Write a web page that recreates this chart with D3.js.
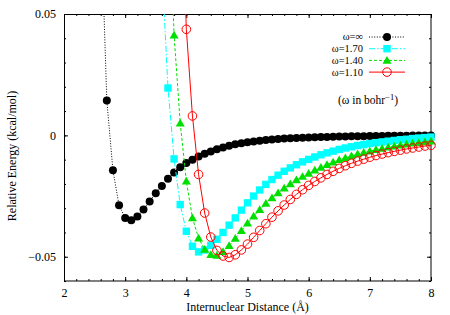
<!DOCTYPE html>
<html>
<head>
<meta charset="utf-8">
<script src="https://cdn.jsdelivr.net/npm/d3@7"></script>
<style>
  html, body { margin: 0; padding: 0; background: #fff; }
  svg { display: block; }
  svg text { font-family: "Liberation Serif", "Times New Roman", "DejaVu Serif", serif !important; fill: #000; }
</style>
</head>
<body>
<svg id="chart" width="450" height="315" font-family="Liberation Serif, serif"></svg>
<script>
// ---------------- data ----------------
const distInf = [2.6,2.7,2.8,2.9,3.0,3.1,3.2,3.3,3.4,3.5,3.6,3.7,3.8,3.9,4.0,4.1,4.2,4.3,4.4,4.5,4.6,4.7,4.8,4.9,5.0,5.1,5.2,5.3,5.4,5.5,5.6,5.7,5.8,5.9,6.0,6.1,6.2,6.3,6.4,6.5,6.6,6.7,6.8,6.9,7.0,7.1,7.2,7.3,7.4,7.5,7.6,7.7,7.8,7.9,8.0];
const energyInf = [0.092,0.0144,-0.0144,-0.0288,-0.0340,-0.0350,-0.0334,-0.0305,-0.0272,-0.0238,-0.0209,-0.0179,-0.0153,-0.0131,-0.0114,-0.0100,-0.0087,-0.0076,-0.0066,-0.0057,-0.0050,-0.0043,-0.0037,-0.0032,-0.0028,-0.0025,-0.0022,-0.0019,-0.0017,-0.0015,-0.0013,-0.0012,-0.0011,-0.0010,-0.0009,-0.0008,-0.0007,-0.0007,-0.0006,-0.0005,-0.0005,-0.0004,-0.0004,-0.0004,-0.0003,-0.0003,-0.0003,-0.0002,-0.0002,-0.0002,-0.0002,-0.0001,-0.0001,-0.0001,-0.0001];

const dist170 = [3.6,3.7,3.8,3.9,4.0,4.1,4.2,4.3,4.4,4.5,4.6,4.7,4.8,4.9,5.0,5.1,5.2,5.3,5.4,5.5,5.6,5.7,5.8,5.9,6.0,6.1,6.2,6.3,6.4,6.5,6.6,6.7,6.8,6.9,7.0,7.1,7.2,7.3,7.4,7.5,7.6,7.7,7.8,7.9,8.0];
const energy170 = [0.070,0.0195,-0.0097,-0.0285,-0.0395,-0.0457,-0.0480,-0.0472,-0.0453,-0.0428,-0.0400,-0.0370,-0.0340,-0.0308,-0.0278,-0.0250,-0.0225,-0.0202,-0.0182,-0.0164,-0.0148,-0.0134,-0.0121,-0.0109,-0.0099,-0.0089,-0.0080,-0.0072,-0.0065,-0.0058,-0.0052,-0.0047,-0.0042,-0.0038,-0.0034,-0.0030,-0.0027,-0.0024,-0.0021,-0.0018,-0.0016,-0.0013,-0.0011,-0.0009,-0.0007];

const dist140 = [3.7,3.8,3.9,4.0,4.1,4.2,4.3,4.4,4.5,4.6,4.7,4.8,4.9,5.0,5.1,5.2,5.3,5.4,5.5,5.6,5.7,5.8,5.9,6.0,6.1,6.2,6.3,6.4,6.5,6.6,6.7,6.8,6.9,7.0,7.1,7.2,7.3,7.4,7.5,7.6,7.7,7.8,7.9,8.0];
const energy140 = [0.110,0.0412,0.0050,-0.0189,-0.0340,-0.0424,-0.0470,-0.0492,-0.0495,-0.0480,-0.0455,-0.0425,-0.0393,-0.0362,-0.0333,-0.0306,-0.0281,-0.0258,-0.0237,-0.0218,-0.0200,-0.0184,-0.0170,-0.0157,-0.0144,-0.0132,-0.0121,-0.0111,-0.0101,-0.0093,-0.0085,-0.0077,-0.0071,-0.0065,-0.0059,-0.0054,-0.0049,-0.0045,-0.0041,-0.0037,-0.0033,-0.0030,-0.0027,-0.0024];

const dist110 = [3.9,4.0,4.1,4.2,4.3,4.4,4.5,4.6,4.7,4.8,4.9,5.0,5.1,5.2,5.3,5.4,5.5,5.6,5.7,5.8,5.9,6.0,6.1,6.2,6.3,6.4,6.5,6.6,6.7,6.8,6.9,7.0,7.1,7.2,7.3,7.4,7.5,7.6,7.7,7.8,7.9,8.0];
const energy110 = [0.120,0.0437,0.0080,-0.0161,-0.0320,-0.0419,-0.0474,-0.0497,-0.0503,-0.0492,-0.0472,-0.0448,-0.0420,-0.0392,-0.0364,-0.0337,-0.0311,-0.0287,-0.0264,-0.0243,-0.0224,-0.0206,-0.0190,-0.0175,-0.0161,-0.0148,-0.0136,-0.0125,-0.0115,-0.0106,-0.0098,-0.0090,-0.0083,-0.0077,-0.0071,-0.0066,-0.0061,-0.0056,-0.0052,-0.0048,-0.0044,-0.0041];

const seriesLabels = ["ω=∞", "ω=1.70", "ω=1.40", "ω=1.10"];
const xTicks = [2, 3, 4, 5, 6, 7, 8];
const yTicks = [-0.05, 0, 0.05];
const yTickLabels = ["−0.05", "0", "0.05"];
const xTitle = "Internuclear Distance (Å)";
const yTitle = "Relative Energy (kcal/mol)";

// ---------------- layout ----------------
const svg = d3.select("#chart");
const L = 64, R = 431, T = 14, B = 281;
const x = d3.scaleLinear().domain([2, 8]).range([L, R]);
const y = d3.scaleLinear().domain([-0.06, 0.05]).range([B, T]);

const styles = [
  { color: "#000000", dash: "1,1.6", marker: "circle" },
  { color: "#00ffff", dash: "6,2,1.5,2", marker: "square" },
  { color: "#00e000", dash: "3,2", marker: "triangle" },
  { color: "#ff0000", dash: null, marker: "ocircle" }
];
const series = [
  { d: distInf, e: energyInf },
  { d: dist170, e: energy170 },
  { d: dist140, e: energy140 },
  { d: dist110, e: energy110 }
];

svg.append("defs").append("clipPath").attr("id", "clip")
  .append("rect").attr("x", L).attr("y", T).attr("width", R - L).attr("height", B - T);

// ---------------- axes / ticks ----------------
function styleAxis(g) {
  g.attr("font-family", null).attr("font-size", null);
  g.select(".domain").remove();
  g.selectAll(".tick line").attr("stroke", "#000").attr("stroke-width", 1);
  g.selectAll(".tick text").style("font-size", "12px").attr("fill", "#000");
}
const xMinor = d3.range(2, 8.0001, 0.2);
const yMinor = d3.range(-0.06, 0.05001, 0.01);

// bottom
svg.append("g").attr("transform", `translate(0,${B})`)
  .call(d3.axisBottom(x).tickValues(xMinor).tickSize(-2).tickFormat("")).call(styleAxis);
svg.append("g").attr("transform", `translate(0,${B})`)
  .call(d3.axisBottom(x).tickValues(xTicks).tickSize(-4).tickPadding(7.5).tickFormat(d3.format("d"))).call(styleAxis);
// top
svg.append("g").attr("transform", `translate(0,${T})`)
  .call(d3.axisTop(x).tickValues(xMinor).tickSize(-2).tickFormat("")).call(styleAxis);
svg.append("g").attr("transform", `translate(0,${T})`)
  .call(d3.axisTop(x).tickValues(xTicks).tickSize(-4).tickFormat("")).call(styleAxis);
// left
svg.append("g").attr("transform", `translate(${L},0)`)
  .call(d3.axisLeft(y).tickValues(yMinor).tickSize(-2).tickFormat("")).call(styleAxis);
svg.append("g").attr("transform", `translate(${L},0)`)
  .call(d3.axisLeft(y).tickValues(yTicks).tickSize(-4).tickPadding(8)
    .tickFormat((d, i) => yTickLabels[i])).call(styleAxis);
// right
svg.append("g").attr("transform", `translate(${R},0)`)
  .call(d3.axisRight(y).tickValues(yMinor).tickSize(-2).tickFormat("")).call(styleAxis);
svg.append("g").attr("transform", `translate(${R},0)`)
  .call(d3.axisRight(y).tickValues(yTicks).tickSize(-4).tickFormat("")).call(styleAxis);

// frame
svg.append("rect").attr("x", L + 0.5).attr("y", T + 0.5)
  .attr("width", R - L - 0.5).attr("height", B - T - 0.5)
  .attr("fill", "none").attr("stroke", "#000").attr("stroke-width", 1);

// titles
svg.append("text").attr("x", (L + R) / 2).attr("y", 311).attr("text-anchor", "middle")
  .style("font-size", "12px").text(xTitle);
svg.append("text").attr("transform", "translate(16,156) rotate(-90)").attr("text-anchor", "middle")
  .style("font-size", "12px").text(yTitle);

// ---------------- markers ----------------
function drawMarker(g, kind, color, cx, cy) {
  if (kind === "circle") {
    g.append("circle").attr("cx", cx).attr("cy", cy).attr("r", 4).attr("fill", color);
  } else if (kind === "square") {
    g.append("rect").attr("x", cx - 3.7).attr("y", cy - 3.7).attr("width", 7.4).attr("height", 7.4).attr("fill", color);
  } else if (kind === "triangle") {
    const s = 4.5;
    g.append("path").attr("d", `M${cx},${cy - s}L${cx + s},${cy + s * 0.72}L${cx - s},${cy + s * 0.72}Z`).attr("fill", color);
  } else {
    g.append("circle").attr("cx", cx).attr("cy", cy).attr("r", 4.3).attr("fill", "none")
      .attr("stroke", color).attr("stroke-width", 1);
  }
}

// ---------------- series ----------------
const line = d3.line().x(p => x(p[0])).y(p => y(p[1]));
series.forEach((s, i) => {
  const st = styles[i];
  const pts = s.d.map((d, k) => [d, s.e[k]]);
  const g = svg.append("g");
  g.append("path").datum(pts).attr("d", line).attr("clip-path", "url(#clip)")
    .attr("fill", "none").attr("stroke", st.color).attr("stroke-width", 1)
    .attr("stroke-dasharray", st.dash);
  pts.filter(p => p[1] <= 0.05 && p[1] >= -0.06).forEach(p => drawMarker(g, st.marker, st.color, x(p[0]), y(p[1])));
});

// ---------------- legend ----------------
const legend = svg.append("g");
seriesLabels.forEach((lab, i) => {
  const st = styles[i];
  const ly = 37 + i * 11.7;
  legend.append("text").attr("x", 363).attr("y", ly).attr("dy", "0.33em").attr("text-anchor", "end")
    .style("font-size", "10.5px").text(lab);
  legend.append("line").attr("x1", 369).attr("x2", 405).attr("y1", ly).attr("y2", ly)
    .attr("stroke", st.color).attr("stroke-width", 1).attr("stroke-dasharray", st.dash);
  drawMarker(legend, st.marker, st.color, 387, ly);
});
const note = svg.append("text").attr("x", 368).attr("y", 104).attr("text-anchor", "middle").style("font-size", "11.5px");
note.append("tspan").text("(ω in bohr");
note.append("tspan").attr("dy", -4).style("font-size", "8.5px").text("−1");
note.append("tspan").attr("dy", 4).text(")");
</script>
</body>
</html>
